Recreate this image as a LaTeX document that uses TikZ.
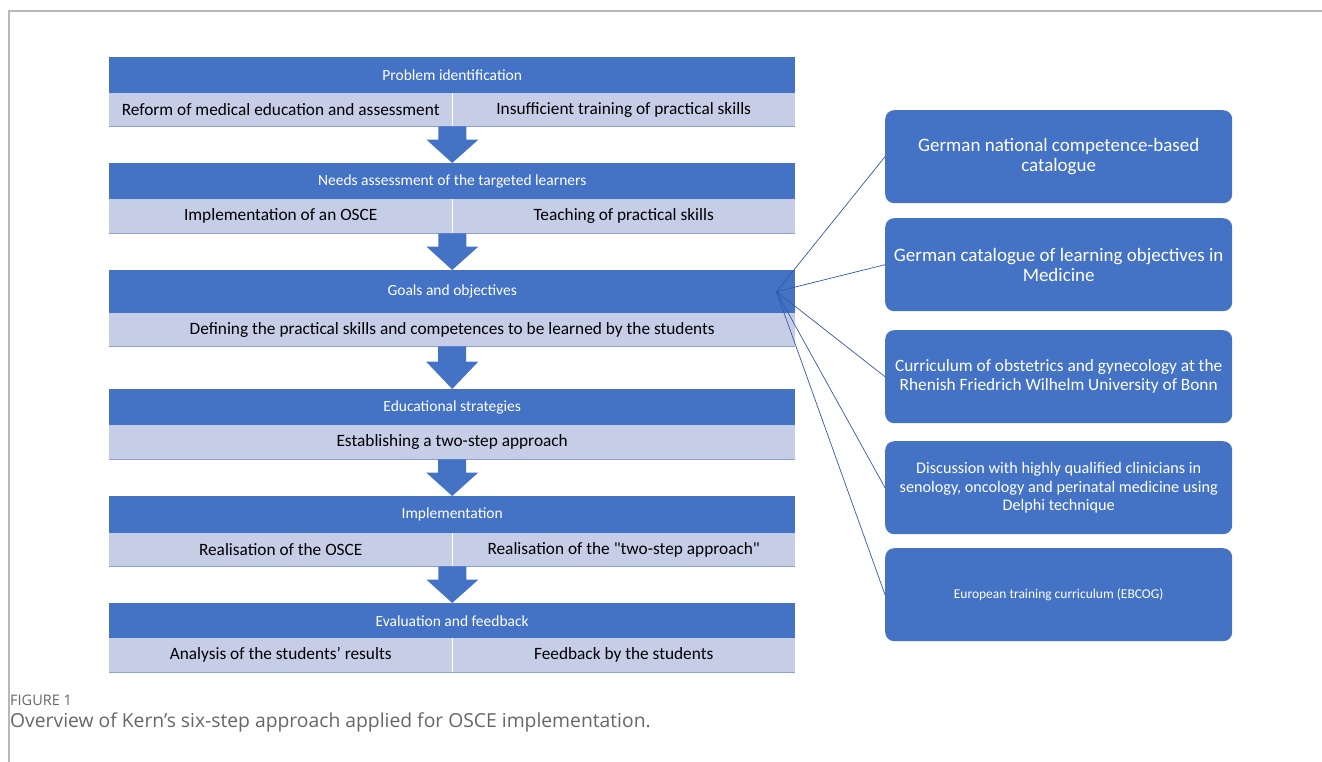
\documentclass[tikz,border=0pt]{standalone}
\usepackage{fontspec}
\setmainfont{Carlito}
\newfontfamily\capfont{Open Sans}
\usetikzlibrary{calc}
\definecolor{hblue}{HTML}{4472C4}
\definecolor{lblue}{HTML}{C6CDE7}
\definecolor{bline}{HTML}{8EA2D2}
\definecolor{lineblue}{HTML}{3458A4}
\definecolor{framegray}{HTML}{B8B8B8}
\definecolor{capgray}{HTML}{666666}
\newcommand\blockarrow[2]{%
  \fill[hblue] let \p1=(#1), \p2=(#2), \n1={\y1-\y2} in
    (\x1-14pt,\y1) -- (\x1+14pt,\y1) -- (\x1+14pt,\y1-0.36*\n1) -- (\x1+26pt,\y1-0.36*\n1)
    -- (\x2,\y2) -- (\x1-26pt,\y1-0.36*\n1) -- (\x1-14pt,\y1-0.36*\n1) -- cycle;}
\begin{document}
\begin{tikzpicture}[x=1pt,y=-1pt,
  hdr/.style={fill=hblue, text=white, inner sep=0pt, minimum width=686pt, anchor=north west,
    font=\fontsize{15.5}{17}\selectfont},
  subc/.style={fill=lblue, text=black, inner sep=0pt, minimum width=343pt, anchor=north west,
    font=\fontsize{17.3}{19}\selectfont},
  subw/.style={subc, minimum width=686pt},
  divider/.style={white, line width=1pt},
  bottomline/.style={bline, line width=0.8pt},
  rbox/.style={fill=hblue, text=white, rounded corners=9pt, inner sep=0pt, minimum width=347pt,
    minimum height=93pt, anchor=north west, align=center},
  link/.style={lineblue, line width=0.7pt},
  frame/.style={framegray, line width=1.3pt}]
\useasboundingbox (0,0) rectangle (1322,762);
\draw[frame] (9,762) -- (9,11) -- (1322,11);

% block 1
\node[hdr, minimum height=36pt] (h1) at (109,57) {Problem identification};
\node[subc, minimum height=33pt] (s1a) at (109,93) {Reform of medical education and assessment};
\node[subc, minimum height=33pt] (s1b) at (452,93) {Insufficient training of practical skills};
\draw[divider] (s1a.north east) -- (s1a.south east);
\draw[bottomline] (s1a.south west) -- (s1b.south east);
% block 2
\node[hdr, minimum height=36pt] (h2) at (109,163) {Needs assessment of the targeted learners};
\node[subc, minimum height=34pt] (s2a) at (109,199) {Implementation of an OSCE};
\node[subc, minimum height=34pt] (s2b) at (452,199) {Teaching of practical skills};
\draw[divider] (s2a.north east) -- (s2a.south east);
\draw[bottomline] (s2a.south west) -- (s2b.south east);
% block 3
\node[hdr, minimum height=43pt] (h3) at (109,270) {Goals and objectives};
\node[subw, minimum height=33pt] (s3) at (109,313) {Defining the practical skills and competences to be learned by the students};
\draw[bottomline] (s3.south west) -- (s3.south east);
% block 4
\node[hdr, minimum height=36pt] (h4) at (109,389) {Educational strategies};
\node[subw, minimum height=34pt] (s4) at (109,425) {Establishing a two-step approach};
\draw[bottomline] (s4.south west) -- (s4.south east);
% block 5
\node[hdr, minimum height=37pt] (h5) at (109,496) {Implementation};
\node[subc, minimum height=33pt] (s5a) at (109,533) {Realisation of the OSCE};
\node[subc, minimum height=33pt] (s5b) at (452,533) {Realisation of the \textquotedbl two-step approach\textquotedbl};
\draw[divider] (s5a.north east) -- (s5a.south east);
\draw[bottomline] (s5a.south west) -- (s5b.south east);
% block 6
\node[hdr, minimum height=35pt] (h6) at (109,603) {Evaluation and feedback};
\node[subc, minimum height=34pt] (s6a) at (109,638) {Analysis of the students’ results};
\node[subc, minimum height=34pt] (s6b) at (452,638) {Feedback by the students};
\draw[divider] (s6a.north east) -- (s6a.south east);
\draw[bottomline] (s6a.south west) -- (s6b.south east);

% arrows
\blockarrow{s1a.south east}{h2.north}
\blockarrow{s2a.south east}{h3.north}
\blockarrow{s3.south}{h4.north}
\blockarrow{s4.south}{h5.north}
\blockarrow{s5a.south east}{h6.north}

% right boxes
\node[rbox, font=\fontsize{19}{20}\selectfont] (r1) at (885,110) {German national competence-based\\catalogue};
\node[rbox, font=\fontsize{19}{20}\selectfont] (r2) at (885,218) {German catalogue of learning objectives in\\Medicine};
\node[rbox, font=\fontsize{17.3}{19}\selectfont] (r3) at (885,330) {Curriculum of obstetrics and gynecology at the\\Rhenish Friedrich Wilhelm University of Bonn};
\node[rbox, font=\fontsize{16.2}{18.5}\selectfont] (r4) at (885,441) {Discussion with highly qualified clinicians in\\senology, oncology and perinatal medicine using\\Delphi technique};
\node[rbox, font=\fontsize{13.5}{16}\selectfont] (r5) at (885,548) {European training curriculum (EBCOG)};

% links
\coordinate (hub) at ($(h3.east)+(-19,0)$);
\foreach \r in {r1,r2,r3,r4,r5} \draw[link] (hub) -- (\r.west);

% caption
\node[anchor=west, inner sep=0pt, text=capgray, font=\capfont\fontsize{14.5}{16}\selectfont] (fig) at (10,700) {FIGURE 1};
\node[anchor=west, inner sep=0pt, text=capgray, font=\capfont\fontsize{19.3}{22}\selectfont] (cap) at (10,722) {Overview of Kern’s six-step approach applied for OSCE implementation.};
\end{tikzpicture}
\end{document}
